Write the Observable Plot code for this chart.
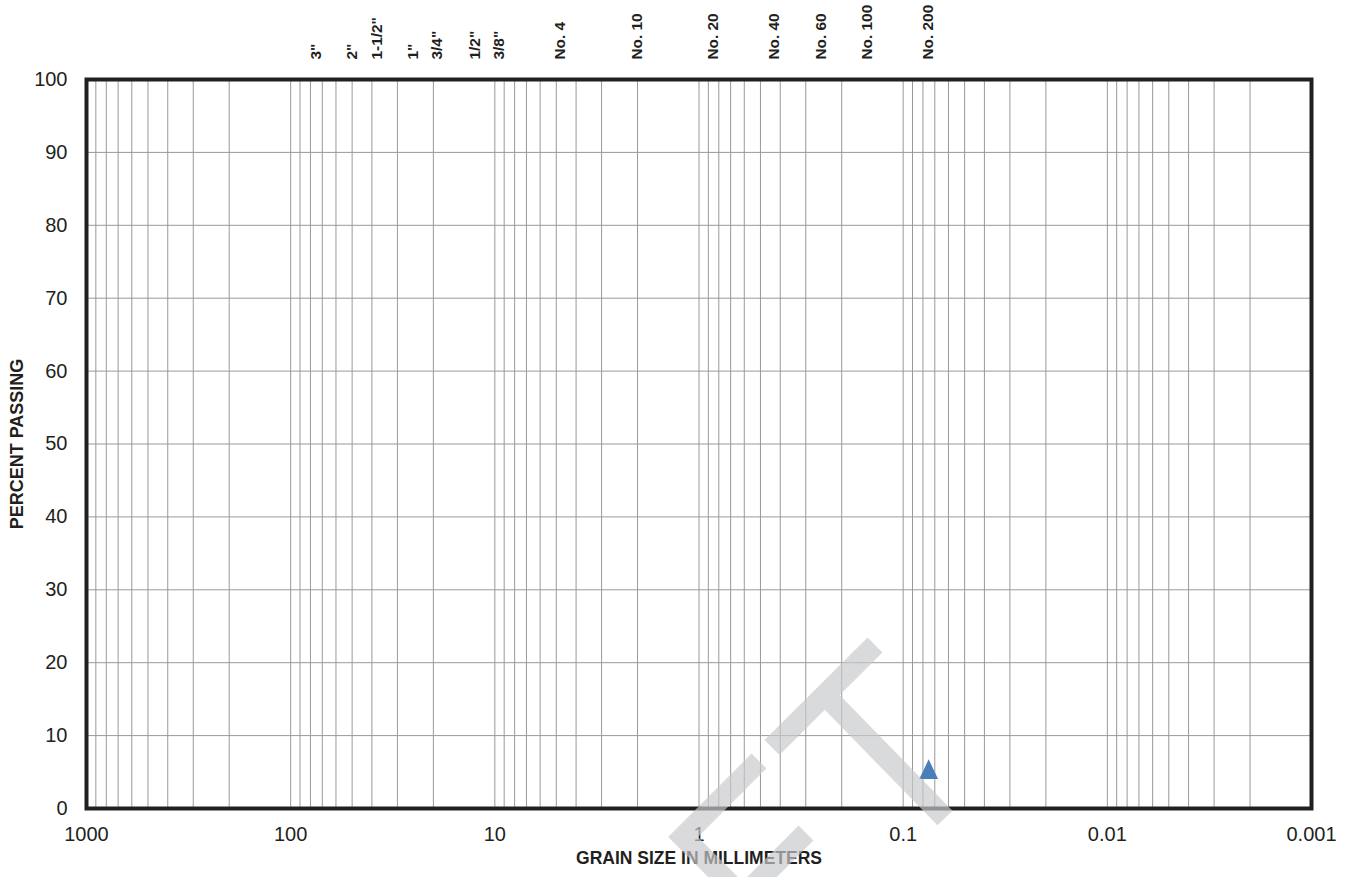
<!DOCTYPE html>
<html>
<head>
<meta charset="utf-8">
<script src="https://cdn.jsdelivr.net/npm/d3@7"></script>
<script src="https://cdn.jsdelivr.net/npm/@observablehq/plot@0.6"></script>
<style>
  html, body { margin: 0; padding: 0; background: #fff; overflow: hidden; }
  #chart { position: relative; width: 1354px; height: 877px; }
  #chart svg { display: block; }
  #logo { position: absolute; left: 0; top: 0; pointer-events: none; }
</style>
</head>
<body>
<div id="chart"></div>
<script>
// Grain size axis (mm, log scale, coarse to fine)
const xTickValues = [1000, 100, 10, 1, 0.1, 0.01, 0.001];
const xTickLabels = ["1000", "100", "10", "1", "0.1", "0.01", "0.001"];
// Percent passing axis
const yTickValues = [0, 10, 20, 30, 40, 50, 60, 70, 80, 90, 100];
// Standard sieve designations and openings (mm)
const sieveNames = ['3"', '2"', '1-1/2"', '1"', '3/4"', '1/2"', '3/8"', "No. 4", "No. 10", "No. 20", "No. 40", "No. 60", "No. 100", "No. 200"];
const sieveSizes = [75, 50, 37.5, 25, 19, 12.5, 9.5, 4.75, 2.0, 0.85, 0.425, 0.25, 0.15, 0.075];
// Test result
const sampleSize = [0.075];
const samplePassing = [5.4];

const ink = "#231f20";
const gridColor = "#999999";

// Log-cycle grid lines (1..9 in every decade)
const gridTicks = d3.scaleLog().domain([0.001, 1000]).ticks();

const sieves = sieveNames.map((name, i) => ({name, size: sieveSizes[i]}));
const samples = sampleSize.map((s, i) => ({size: s, passing: samplePassing[i]}));

// Upward-pointing triangle, slightly taller than equilateral
const tallTriangle = {
  draw(context, size) {
    const r = Math.sqrt(size / Math.PI);
    const w = 0.94 * r, h = 0.98 * r;
    context.moveTo(0, -h);
    context.lineTo(w, h);
    context.lineTo(-w, h);
    context.closePath();
  }
};

const chart = Plot.plot({
  width: 1354,
  height: 877,
  marginLeft: 86,
  marginRight: 43,
  marginTop: 79,
  marginBottom: 69,
  x: {type: "log", domain: [1000, 0.001]},
  y: {domain: [0, 100]},
  style: {fontFamily: "'Liberation Sans', Arial, sans-serif", color: ink, background: "#fff"},
  marks: [
    Plot.gridX(gridTicks, {stroke: gridColor, strokeOpacity: 1, strokeWidth: 1}),
    Plot.gridY(yTickValues, {stroke: gridColor, strokeOpacity: 1, strokeWidth: 1}),
    Plot.axisX(xTickValues, {
      tickSize: 0, tickPadding: 18, fontSize: 20, label: null,
      tickFormat: d => xTickLabels[xTickValues.indexOf(d)]
    }),
    Plot.axisY(yTickValues, {tickSize: 0, tickPadding: 19, fontSize: 20, label: null}),
    Plot.frame({stroke: ink, strokeWidth: 4}),
    Plot.text(sieves, {
      x: "size", text: "name", frameAnchor: "top", dy: -20,
      rotate: -90, textAnchor: "start", lineAnchor: "middle",
      fontWeight: "bold", fontSize: 14, fill: ink, className: "sieve-labels"
    }),
    Plot.text(["GRAIN SIZE IN MILLIMETERS"], {
      frameAnchor: "bottom", dy: 50, textAnchor: "middle", lineAnchor: "middle",
      fontWeight: "bold", fontSize: 17.5, fill: ink
    }),
    Plot.text(["PERCENT PASSING"], {
      frameAnchor: "left", dx: -69, rotate: -90, textAnchor: "middle", lineAnchor: "middle",
      fontWeight: "bold", fontSize: 18, fill: ink
    }),
    Plot.dot(samples, {
      x: "size", y: "passing", symbol: tallTriangle, r: 10,
      fill: "#4a7ebb", stroke: "none"
    })
  ]
});

// Sieve labels are set in a lengthwise-stretched face
d3.select(chart).selectAll(".sieve-labels text").attr("transform", function () {
  return this.getAttribute("transform") + " scale(1.1,1)";
});

const host = document.getElementById("chart");
host.appendChild(chart);

// Faint "CT" logo watermark laid over the chart
const ns = "http://www.w3.org/2000/svg";
const logo = d3.create("svg")
  .attr("id", "logo")
  .attr("xmlns", ns)
  .attr("width", 1354)
  .attr("height", 877);
const g = logo.append("g")
  .attr("opacity", 0.68)
  .attr("fill", "none")
  .attr("stroke", "rgb(200,201,203)")
  .attr("stroke-width", 21)
  .attr("stroke-linecap", "butt")
  .attr("stroke-linejoin", "miter");
g.append("polyline").attr("points", "759,761 683,837 742.5,896.5 806,833");
g.append("polyline").attr("points", "875,645 772,747.5");
g.append("polyline").attr("points", "825,695 945,818");
host.appendChild(logo.node());
</script>
</body>
</html>
